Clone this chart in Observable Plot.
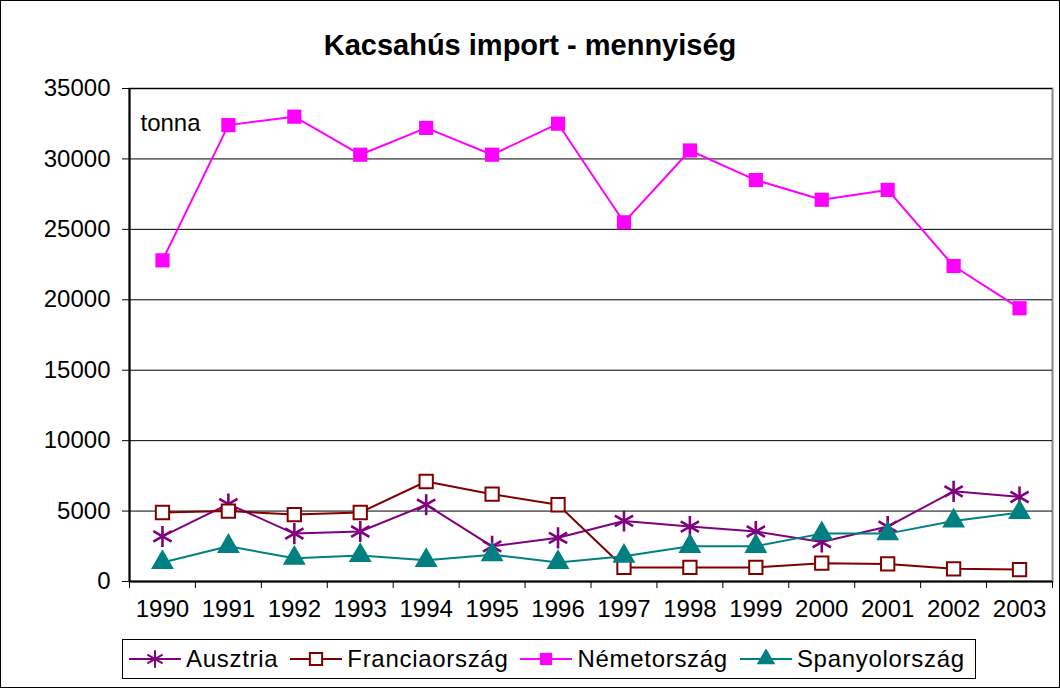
<!DOCTYPE html>
<html>
<head>
<meta charset="utf-8">
<script src="https://cdn.jsdelivr.net/npm/d3@7"></script>
<script src="https://cdn.jsdelivr.net/npm/@observablehq/plot@0.6"></script>
<style>
  html, body { margin: 0; padding: 0; background: #fff; }
  #wrap { position: relative; width: 1058px; height: 686px; border: 1px solid #000; background: #fff; font-family: "Liberation Sans", Arial, sans-serif; overflow: hidden; }
  #title { position: absolute; left: 0; top: 27px; width: 100%; text-align: center; font-weight: bold; font-size: 29px; color: #000; line-height: 34px; }
  #chart { position: absolute; left: 0; top: 0; }
  #legend { position: absolute; left: 121px; top: 638px; width: 854px; height: 40px; border: 1px solid #000; box-sizing: border-box; display: flex; align-items: center; font-size: 24px; letter-spacing: 0.7px; }
  .item { display: flex; align-items: center; margin-left: 6px; margin-right: 6px; }
  .item svg { margin-right: 5px; }
</style>
</head>
<body>
<div id="wrap">
  <div id="chart"></div>
  <div id="title">Kacsahús import - mennyiség</div>
  <div id="legend"></div>
</div>
<script>
const years = [1990, 1991, 1992, 1993, 1994, 1995, 1996, 1997, 1998, 1999, 2000, 2001, 2002, 2003];
const ausztria = [3200, 5500, 3400, 3550, 5450, 2500, 3100, 4300, 3900, 3550, 2800, 3900, 6400, 6000];
const franciaorszag = [4900, 5000, 4750, 4900, 7100, 6200, 5450, 1000, 1000, 1000, 1300, 1250, 900, 850];
const nemetorszag = [22800, 32400, 33000, 30300, 32200, 30300, 32500, 25500, 30600, 28500, 27100, 27800, 22400, 19400];
const spanyolorszag = [1350, 2500, 1650, 1850, 1500, 1900, 1350, 1800, 2500, 2500, 3400, 3400, 4300, 4900];
const yTicks = [0, 5000, 10000, 15000, 20000, 25000, 30000, 35000];

const series = [
  {name: "Ausztria", values: ausztria, color: "#800080", symbol: "asterisk", fill: "none", r: 10},
  {name: "Franciaország", values: franciaorszag, color: "#800000", symbol: "square", fill: "white", r: 7.5},
  {name: "Németország", values: nemetorszag, color: "#ff00ff", symbol: "square", fill: "#ff00ff", r: 8},
  {name: "Spanyolország", values: spanyolorszag, color: "#008080", symbol: "triangle", fill: "#008080", r: 8.5}
];

const rows = series.flatMap(s => years.map((y, i) => ({series: s.name, year: y, value: s.values[i]})));
const boundaries = years.map(y => y - 0.5).concat([years[years.length - 1] + 0.5]);

const marks = [
  Plot.frame({stroke: "#888", strokeWidth: 2}),
  Plot.gridY(yTicks, {stroke: "#000", strokeOpacity: 1, strokeWidth: 1}),
  Plot.ruleX([boundaries[0]], {stroke: "#000", strokeWidth: 2}),
  Plot.ruleY([0], {stroke: "#000", strokeWidth: 2}),
  Plot.axisY({ticks: yTicks, tickSize: 7, tickPadding: 12, tickFormat: d => String(d), fontSize: 24, stroke: "#000", label: null}),
  Plot.axisX({ticks: boundaries, tickSize: 7, tickFormat: () => "", stroke: "#000", label: null}),
  Plot.axisX({ticks: years, tickSize: 0, tickPadding: 18, tickFormat: d => String(d), fontSize: 24, label: null}),
  Plot.text(["tonna"], {frameAnchor: "top-left", dx: 11, dy: 25, fontSize: 24, textAnchor: "start"})
];
for (const s of series) {
  const data = rows.filter(d => d.series === s.name);
  marks.push(Plot.line(data, {x: "year", y: "value", stroke: s.color, strokeWidth: 2}));
  marks.push(Plot.dot(data, {x: "year", y: "value", symbol: () => s.symbol, r: s.r,
    fill: s.fill === "none" ? "none" : s.fill, stroke: s.color, strokeWidth: s.symbol === "asterisk" ? 2.6 : (s.fill === "white" ? 2 : 0)}));
}

const plot = Plot.plot({
  width: 1058,
  height: 686,
  marginTop: 87,
  marginBottom: 106,
  marginLeft: 128,
  marginRight: 7,
  style: {fontFamily: "'Liberation Sans', Arial, sans-serif", fontSize: "24px", color: "#000", background: "transparent"},
  x: {type: "linear", domain: [boundaries[0], boundaries[boundaries.length - 1]], label: null},
  y: {type: "linear", domain: [0, 35000], label: null},
  symbol: {type: "identity"},
  marks
});
document.getElementById("chart").appendChild(plot);

const legend = document.getElementById("legend");
for (const s of series) {
  const item = document.createElement("div");
  item.className = "item";
  const sw = d3.create("svg").attr("width", 52).attr("height", 20);
  sw.append("line").attr("x1", 0).attr("x2", 52).attr("y1", 10).attr("y2", 10).attr("stroke", s.color).attr("stroke-width", 2);
  const sym = {asterisk: d3.symbolAsterisk, square: d3.symbolSquare, triangle: d3.symbolTriangle}[s.symbol];
  sw.append("path").attr("transform", "translate(26,10)").attr("d", d3.symbol(sym, s.symbol === "asterisk" ? 220 : 150)())
    .attr("fill", s.fill).attr("stroke", s.color).attr("stroke-width", s.fill === "#ff00ff" || s.symbol === "triangle" ? 0 : 2);
  item.appendChild(sw.node());
  const t = document.createElement("span");
  t.textContent = s.name;
  item.appendChild(t);
  legend.appendChild(item);
}
</script>
</body>
</html>
